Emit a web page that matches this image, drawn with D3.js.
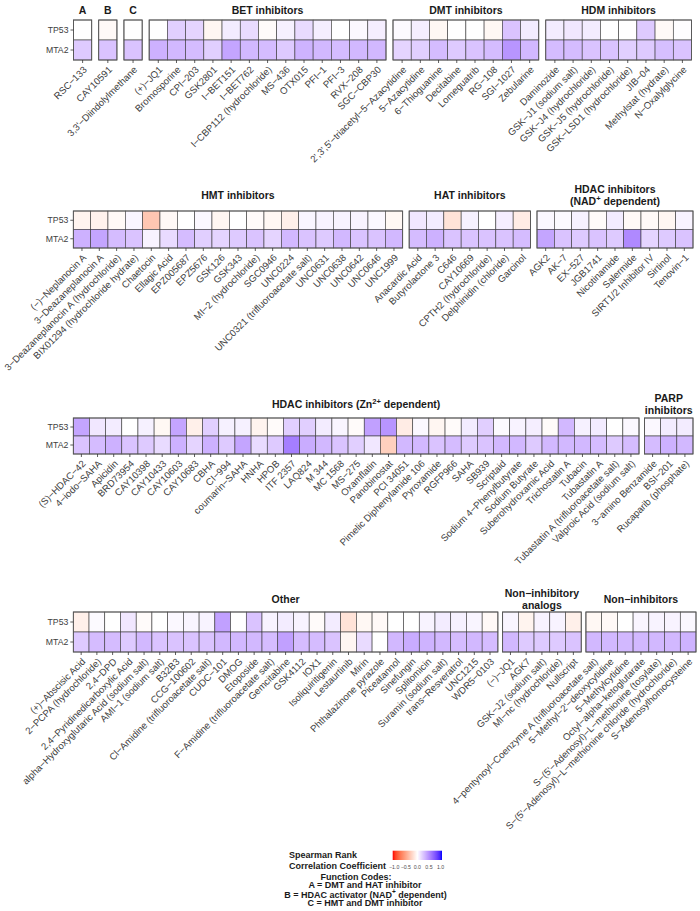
<!DOCTYPE html>
<html><head><meta charset="utf-8">
<script src="https://cdn.jsdelivr.net/npm/d3@7"></script>
<style>
body{margin:0;background:#fff}
svg{display:block}
text{font-family:"Liberation Sans",Arial,Helvetica,sans-serif}
</style>
</head><body>
<svg id="chart" width="700" height="911"></svg>
<script>
// ---------------- DATA ----------------
const genes = ["TP53", "MTA2"];

const namesA = ["RSC-133"];
const tp53A = [0.0];
const mta2A = [0.22];

const namesB = ["CAY10591"];
const tp53B = [-0.03];
const mta2B = [0.25];

const namesC = ["3,3'-Diindolylmethane"];
const tp53C = [0.0];
const mta2C = [0.25];

const namesBET = ["(+)-JQ1","Bromosporine","CPI-203","GSK2801","I-BET151","I-BET762","I-CBP112 (hydrochloride)","MS-436","OTX015","PFI-1","PFI-3","RVX-208","SGC-CBP30"];
const tp53BET = [0.0, 0.2, 0.18, -0.05, 0.08, 0.15, -0.02, 0.06, 0.15, 0.07, 0.0, 0.03, 0.07];
const mta2BET = [0.33, 0.3, 0.28, 0.2, 0.38, 0.3, 0.28, 0.22, 0.32, 0.3, 0.28, 0.3, 0.3];

const namesDMT = ["2',3',5'-triacetyl-5-Azacytidine","5-Azacytidine","6-Thioguanine","Decitabine","Lomeguatrib","RG-108","SGI-1027","Zebularine"];
const tp53DMT = [0.02, 0.07, -0.04, 0.0, 0.0, -0.04, 0.25, 0.08];
const mta2DMT = [0.18, 0.2, 0.28, 0.22, 0.25, 0.28, 0.45, 0.3];

const namesHDM = ["Daminozide","GSK-J1 (sodium salt)","GSK-J4 (hydrochloride)","GSK-J5 (hydrochloride)","GSK-LSD1 (hydrochloride)","JIB-04","Methylstat (hydrate)","N-Oxalylglycine"];
const tp53HDM = [0.08, 0.1, 0.08, 0.0, 0.0, 0.22, -0.03, 0.01];
const mta2HDM = [0.28, 0.28, 0.25, 0.25, 0.2, 0.22, 0.27, 0.25];

const namesHMT = ["(-)-Neplanocin A","3-Deazaneplanocin A","3-Deazaneplanocin A (hydrochloride)","BIX01294 (hydrochloride hydrate)","Chaetocin","Ellagic Acid","EPZ005687","EPZ5676","GSK126","GSK343","MI-2 (hydrochloride)","SGC0946","UNC0224","UNC0321 (trifluoroacetate salt)","UNC0631","UNC0638","UNC0642","UNC0646","UNC1999"];
const tp53HMT = [-0.06, -0.07, -0.03, 0.04, -0.3, -0.03, 0.0, 0.03, -0.05, 0.0, -0.02, -0.04, -0.08, 0.04, 0.05, 0.05, 0.05, 0.03, -0.04];
const mta2HMT = [0.33, 0.38, 0.28, 0.25, 0.05, 0.15, 0.28, 0.2, 0.18, 0.22, 0.25, 0.18, 0.3, 0.25, 0.22, 0.3, 0.25, 0.25, 0.3];

const namesHAT = ["Anacardic Acid","Butyrolactone 3","C646","CAY10669","CPTH2 (hydrochloride)","Delphinidin (chloride)","Garcinol"];
const tp53HAT = [0.1, 0.08, -0.15, 0.06, 0.0, 0.07, -0.1];
const mta2HAT = [0.28, 0.33, 0.25, 0.25, 0.25, 0.25, 0.28];

const namesNAD = ["AGK2","AK-7","EX-527","JGB1741","Nicotinamide","Salermide","SIRT1/2 Inhibitor IV","Sirtinol","Tenovin-1"];
const tp53NAD = [0.03, 0.02, 0.06, -0.02, 0.08, -0.03, -0.03, -0.05, 0.05];
const mta2NAD = [0.38, 0.25, 0.22, 0.25, 0.22, 0.5, 0.18, 0.22, 0.25];

const namesZN = ["(S)-HDAC-42","4-iodo-SAHA","Apicidin","BRD73954","CAY10398","CAY10433","CAY10603","CAY10683","CBHA","CI-994","coumarin-SAHA","HNHA","HPOB","ITF 2357","LAQ824","M 344","MC 1568","MS-275","Oxamflatin","Panobinostat","PCI 34051","Pimelic Diphenylamide 106","Pyroxamide","RGFP966","SAHA","SB939","Scriptaid","Sodium 4-Phenylbutyrate","Sodium Butyrate","Suberohydroxamic Acid","Trichostatin A","Tubacin","Tubastatin A","Tubastatin A (trifluoroacetate salt)","Valproic Acid (sodium salt)"];
const tp53ZN = [0.38, 0.1, 0.08, 0.0, 0.06, -0.04, 0.38, -0.08, 0.2, 0.06, 0.06, -0.06, -0.02, 0.2, 0.2, 0.08, 0.04, -0.02, 0.4, 0.45, -0.1, 0.03, -0.05, -0.02, 0.08, 0.2, 0.02, 0.05, 0.07, -0.02, 0.3, 0.06, 0.08, 0.0, 0.03];
const mta2ZN = [0.25, 0.28, 0.33, 0.25, 0.22, 0.15, 0.33, 0.18, 0.33, 0.22, 0.38, 0.15, 0.22, 0.55, 0.35, 0.3, 0.25, 0.2, 0.1, -0.25, 0.3, 0.3, 0.25, 0.28, 0.22, 0.25, 0.3, 0.3, 0.22, 0.3, 0.3, 0.3, 0.28, 0.22, 0.28];

const namesPARP = ["3-amino Benzamide","BSI-201","Rucaparib (phosphate)"];
const tp53PARP = [0.03, 0.08, 0.08];
const mta2PARP = [0.28, 0.33, 0.3];

const namesOTH = ["(+)-Abscisic Acid","2-PCPA (hydrochloride)","2,4-DPD","2,4-Pyridinedicarboxylic Acid","alpha-Hydroxyglutaric Acid (sodium salt)","AMI-1 (sodium salt)","B32B3","CCG-100602","Cl-Amidine (trifluoroacetate salt)","CUDC-101","DMOG","Etoposide","F-Amidine (trifluoroacetate salt)","Gemcitabine","GSK4112","IOX1","Isoliquiritigenin","Lestaurtinib","Mirin","Phthalazinone pyrazole","Piceatannol","Sinefungin","Splitomicin","Suramin (sodium salt)","trans-Resveratrol","UNC1215","WDR5-0103"];
const tp53OTH = [-0.08, 0.02, 0.0, 0.1, -0.02, 0.0, 0.03, 0.04, 0.05, 0.4, 0.0, 0.25, 0.05, 0.08, 0.05, -0.02, 0.08, -0.15, -0.04, -0.03, 0.0, 0.0, 0.05, 0.08, 0.06, 0.04, -0.03];
const mta2OTH = [0.22, 0.28, 0.28, 0.22, 0.3, 0.25, 0.25, 0.25, 0.25, 0.3, 0.3, 0.3, 0.28, 0.4, 0.28, 0.28, 0.25, -0.05, 0.15, 0.0, 0.3, 0.35, 0.32, 0.3, 0.28, 0.3, 0.28];

const namesANA = ["(-)-JQ1","AGK7","GSK-J2 (sodium salt)","MI-nc (hydrochloride)","Nullscript"];
const tp53ANA = [0.04, -0.06, 0.05, 0.05, -0.08];
const mta2ANA = [0.3, 0.22, 0.22, 0.22, 0.25];

const namesNON = ["4-pentynoyl-Coenzyme A (trifluoroacetate salt)","5-Methyl-2'-deoxycytidine","5-Methylcytidine","Octyl-alpha-ketoglutarate","S-(5'-Adenosyl)-L-methionine (tosylate)","S-(5'-Adenosyl)-L-methionine chloride (hydrochloride)","S-Adenosylhomocysteine"];
const tp53NON = [-0.04, -0.03, 0.0, 0.04, 0.05, 0.05, 0.03];
const mta2NON = [0.3, 0.3, 0.3, 0.3, 0.3, 0.3, 0.32];

const legendTicks = [-1.0, -0.5, 0.0, 0.5, 1.0];
const legendTitle = ["Spearman Rank", "Correlation Coefficient"];
const captionLines = ["Function Codes:", "A = DMT and HAT inhibitor", "B = HDAC activator (NAD^{+} dependent)", "C = HMT and DMT inhibitor"];

// ---------------- PANELS ----------------
const P = (title, names, tp53, mta2) => ({title, names, tp53, mta2});
const rows = [
  {panels: [P(["A"], namesA, tp53A, mta2A), P(["B"], namesB, tp53B, mta2B), P(["C"], namesC, tp53C, mta2C),
            P(["BET inhibitors"], namesBET, tp53BET, mta2BET), P(["DMT inhibitors"], namesDMT, tp53DMT, mta2DMT),
            P(["HDM inhibitors"], namesHDM, tp53HDM, mta2HDM)],
   top: 20, h: 40, left: 73.5, right: 691.5, gap: 7, ty: 10},
  {panels: [P(["HMT inhibitors"], namesHMT, tp53HMT, mta2HMT), P(["HAT inhibitors"], namesHAT, tp53HAT, mta2HAT),
            P(["HDAC inhibitors", "(NAD^{+} dependent)"], namesNAD, tp53NAD, mta2NAD)],
   top: 211, h: 37, left: 73.3, right: 693, gap: 6.5, ty: 195},
  {panels: [P(["HDAC inhibitors (Zn^{2+} dependent)"], namesZN, tp53ZN, mta2ZN), P(["PARP", "inhibitors"], namesPARP, tp53PARP, mta2PARP)],
   top: 418, h: 36, left: 73.3, right: 693, gap: 5.5, ty: 404},
  {panels: [P(["Other"], namesOTH, tp53OTH, mta2OTH), P(["Non-inhibitory", "analogs"], namesANA, tp53ANA, mta2ANA),
            P(["Non-inhibitors"], namesNON, tp53NON, mta2NON)],
   top: 612, h: 40, left: 73.3, right: 696, gap: 4.7, ty: 599}
];

// ---------------- DRAW ----------------
const svg = d3.select("#chart");
const color = d3.scaleLinear().domain([-1, 0, 1]).range(["#ff0000", "#ffffff", "#0000ff"]).interpolate(d3.interpolateLab);
const minus = s => s.replace(/-/g, "\u2212");

function richText(sel, str, size) {
  const parts = str.split(/(\^\{[^}]*\})/).filter(p => p);
  let pending = 0;
  parts.forEach(p => {
    const m = p.match(/^\^\{([^}]*)\}$/);
    if (m) {
      sel.append("tspan").attr("font-size", size * 0.72).attr("dy", pending - size * 0.36).text(m[1]);
      pending = size * 0.36;
    } else {
      const t = sel.append("tspan").text(minus(p));
      if (pending) t.attr("dy", pending);
      pending = 0;
    }
  });
}

const TITLE_SIZE = 10.5, XLAB = 9.6, YLAB = 8.7, TXT = "#404040";

rows.forEach(row => {
  const n = d3.sum(row.panels, p => p.names.length);
  const w = (row.right - row.left - row.gap * (row.panels.length - 1)) / n;
  const y = d3.scaleBand().domain(genes).range([row.top, row.top + row.h]);
  let x0 = row.left;
  row.panels.forEach((p, pi) => {
    const x1 = x0 + w * p.names.length;
    const x = d3.scaleBand().domain(p.names).range([x0, x1]);
    const cells = [];
    p.names.forEach((nm, i) => {
      cells.push({name: nm, gene: "TP53", v: p.tp53[i]});
      cells.push({name: nm, gene: "MTA2", v: p.mta2[i]});
    });
    const g = svg.append("g");
    g.selectAll("rect.cell").data(cells).join("rect").attr("class", "cell")
      .attr("x", d => x(d.name)).attr("y", d => y(d.gene))
      .attr("width", x.bandwidth()).attr("height", y.bandwidth())
      .attr("fill", d => color(d.v)).attr("stroke", "#3a3a3a").attr("stroke-width", 0.6);
    g.append("rect").attr("x", x0).attr("y", row.top).attr("width", x1 - x0).attr("height", row.h)
      .attr("fill", "none").attr("stroke", "#555").attr("stroke-width", 0.9);

    // strip title
    const cx = (x0 + x1) / 2;
    const lh = 11.5;
    p.title.forEach((line, li) => {
      const yy = row.ty + (li - (p.title.length - 1) / 2) * lh + TITLE_SIZE * 0.36;
      const t = svg.append("text").attr("x", cx).attr("y", yy).attr("text-anchor", "middle")
        .attr("font-size", TITLE_SIZE).attr("font-weight", "bold").attr("fill", "#1a1a1a");
      richText(t, line, TITLE_SIZE);
    });

    // x axis
    const ax = d3.axisBottom(x).tickSize(3).tickSizeOuter(0).tickFormat(minus);
    const ga = svg.append("g").attr("transform", `translate(0,${row.top + row.h})`).call(ax);
    ga.select(".domain").remove();
    ga.selectAll(".tick line").attr("stroke", "#333").attr("stroke-width", 0.8);
    ga.selectAll(".tick text")
      .attr("x", 0).attr("y", 0).attr("dy", "0.71em")
      .attr("transform", "translate(0,5.5) rotate(-45)")
      .attr("text-anchor", "end").attr("font-size", XLAB).attr("fill", TXT)
      .attr("font-family", "Liberation Sans, Arial, sans-serif");

    // y axis for first panel
    if (pi === 0) {
      const ay = d3.axisLeft(y).tickSize(3).tickPadding(2);
      const gy = svg.append("g").attr("transform", `translate(${row.left},0)`).call(ay);
      gy.select(".domain").remove();
      gy.selectAll(".tick line").attr("stroke", "#333").attr("stroke-width", 0.8);
      gy.selectAll(".tick text").attr("font-size", YLAB).attr("fill", TXT)
        .attr("font-family", "Liberation Sans, Arial, sans-serif");
    }
    x0 = x1 + row.gap;
  });
});

// ---------------- LEGEND ----------------
const defs = svg.append("defs");
const grad = defs.append("linearGradient").attr("id", "cgrad").attr("x1", "0%").attr("x2", "100%");
d3.range(0, 21).forEach(i => {
  const v = -1 + i / 10;
  grad.append("stop").attr("offset", `${i * 5}%`).attr("stop-color", color(v));
});
const bar = {x0: 392.7, x1: 442, y: 850.7, h: 9.3};
svg.append("rect").attr("x", bar.x0).attr("y", bar.y).attr("width", bar.x1 - bar.x0).attr("height", bar.h)
  .attr("fill", "url(#cgrad)");
const lx = d3.scaleLinear().domain([-1, 1]).range([bar.x0 + 1.5, bar.x1 - 1.5]);
legendTicks.forEach(t => {
  svg.append("text").attr("x", lx(t)).attr("y", 869.2).attr("text-anchor", "middle")
    .attr("font-size", 5.2).attr("fill", "#4d4d4d").text(minus(t.toFixed(1)));
});
legendTitle.forEach((s, i) => {
  svg.append("text").attr("x", 289).attr("y", 858 + i * 10.5).attr("font-size", 9)
    .attr("font-weight", "bold").attr("fill", "#1a1a1a").text(s);
});
const capY = [879.5, 888, 897.5, 906];
const capX = [356, 365, 365.5, 365];
captionLines.forEach((s, i) => {
  const t = svg.append("text").attr("x", capX[i]).attr("y", capY[i]).attr("text-anchor", "middle")
    .attr("font-size", 9).attr("font-weight", "bold").attr("fill", "#1a1a1a");
  richText(t, s, 9);
});
</script>
</body></html>
